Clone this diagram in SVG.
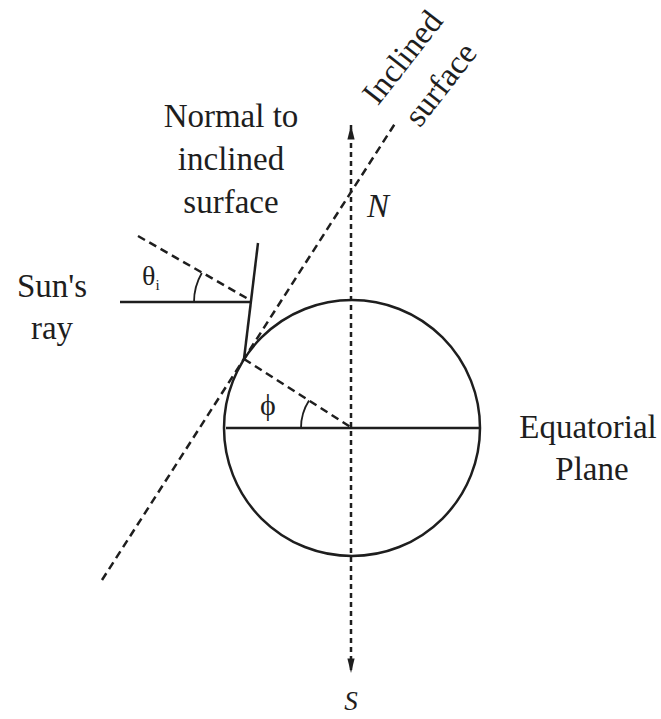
<svg xmlns="http://www.w3.org/2000/svg" width="661" height="719" viewBox="0 0 661 719">
<style>
.t{font-family:"Liberation Serif","Times New Roman",serif;font-size:33px;fill:#1e1e1e}
.it{font-style:italic}
.s{stroke:#1e1e1e;stroke-width:2.5;fill:none}
.dl{stroke:#1e1e1e;stroke-width:2.5;fill:none;stroke-dasharray:8 5}
.dv{stroke:#1e1e1e;stroke-width:2.5;fill:none;stroke-dasharray:5 4}
.thin{stroke:#1e1e1e;stroke-width:1.8;fill:none}
</style>
<defs>
<marker id="arr" viewBox="0 0 16 10" refX="16" refY="5" markerWidth="16" markerHeight="9" markerUnits="userSpaceOnUse" orient="auto-start-reverse">
<path d="M0,1 L16,5 L0,9 Z" fill="#1e1e1e"/>
</marker>
</defs>
<rect width="661" height="719" fill="#ffffff"/>
<g id="earth">
<circle cx="352" cy="428" r="128" class="s"/>
<line x1="226" y1="428" x2="480" y2="428" class="s"/>
</g>
<g id="connectors">
<line x1="351" y1="125" x2="351" y2="673" class="dv" marker-start="url(#arr)" marker-end="url(#arr)"/>
<line x1="102" y1="580" x2="396" y2="122" class="dl"/>
<line x1="244" y1="359" x2="352" y2="428" class="dl"/>
<line x1="244" y1="359" x2="258" y2="243" class="s"/>
<line x1="120" y1="302" x2="252" y2="302" class="s"/>
<line x1="138" y1="236" x2="250" y2="300" class="dl"/>
<path d="M194,302 A58,58 0 0 1 201.8,273" class="thin"/>
<path d="M301,428 A51,51 0 0 1 309,400.5" class="thin"/>
</g>
<g id="labels">
<text class="t" x="231" y="127" text-anchor="middle">Normal to</text>
<text class="t" x="231" y="170" text-anchor="middle">inclined</text>
<text class="t" x="231" y="213" text-anchor="middle">surface</text>
<text class="t" x="52" y="297" text-anchor="middle">Sun's</text>
<text class="t" x="52" y="339" text-anchor="middle">ray</text>
<text class="t" x="588" y="438" text-anchor="middle">Equatorial</text>
<text class="t" x="592" y="480" text-anchor="middle">Plane</text>
<text class="t it" x="378" y="217" text-anchor="middle">N</text>
<text class="t it" x="351" y="710" text-anchor="middle" style="font-size:27px">S</text>
<text class="t" x="142" y="285" style="font-size:28px">θ<tspan style="font-size:15px" dy="5">i</tspan></text>
<text class="t" x="268" y="415" text-anchor="middle" style="font-size:30px">ϕ</text>
<text class="t" transform="translate(411,64) rotate(-52)" text-anchor="middle">Inclined</text>
<text class="t" transform="translate(449,91) rotate(-52)" text-anchor="middle">surface</text>
</g>
</svg>
